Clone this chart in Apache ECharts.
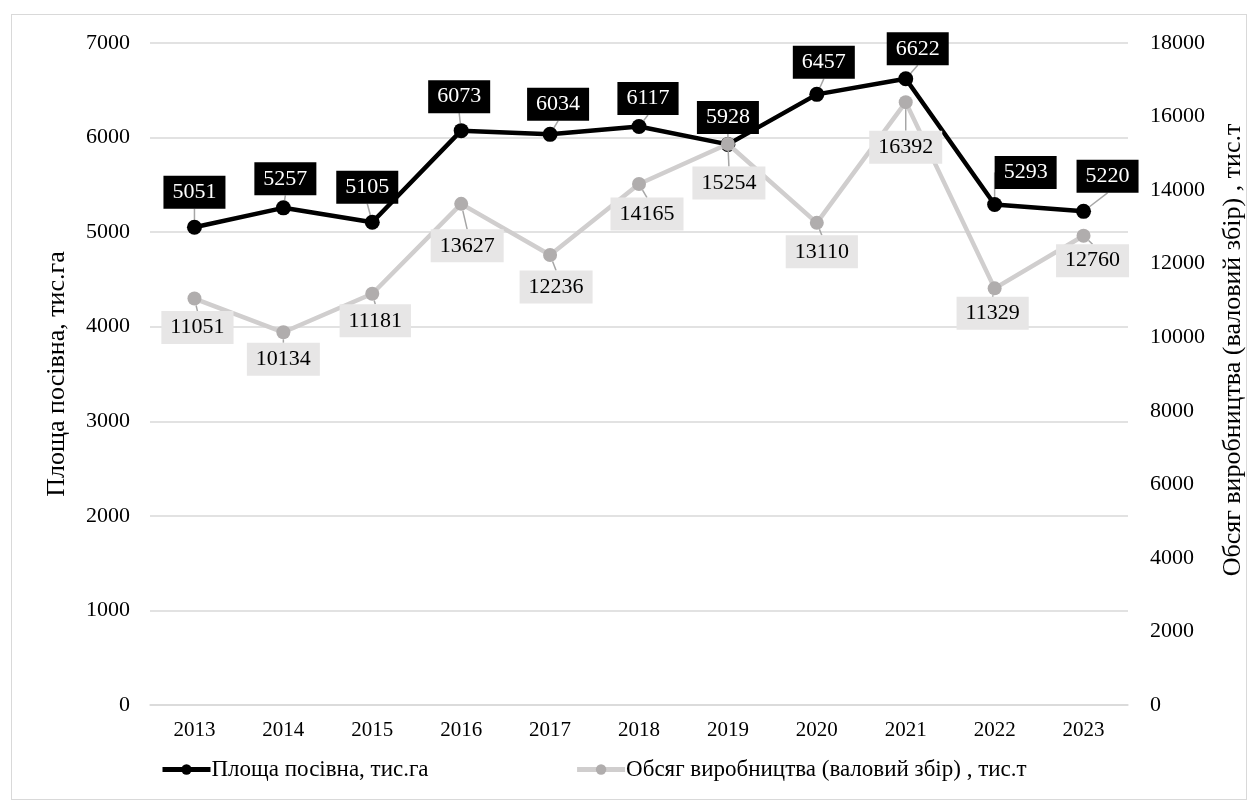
<!DOCTYPE html>
<html>
<head>
<meta charset="utf-8">
<script src="https://cdn.jsdelivr.net/npm/echarts@6/dist/echarts.min.js"></script>
<style>
html,body{margin:0;padding:0;background:#fff;}
#frame{position:absolute;left:11px;top:14px;width:1236px;height:786px;border:1.5px solid #d9d9d9;box-sizing:border-box;}
#c{position:absolute;left:0;top:0;width:1251px;height:811px;}
</style>
</head>
<body>
<div id="frame"></div>
<div id="c"></div>
<script>
const years = ['2013','2014','2015','2016','2017','2018','2019','2020','2021','2022','2023'];
const area = [5051, 5257, 5105, 6073, 6034, 6117, 5928, 6457, 6622, 5293, 5220];
const production = [11051, 10134, 11181, 13627, 12236, 14165, 15254, 13110, 16392, 11329, 12760];
const areaName = 'Площа посівна, тис.га';
const prodName = 'Обсяг виробництва (валовий збір) , тис.т';
const leftTicks = {min: 0, max: 7000, interval: 1000};
const rightTicks = {min: 0, max: 18000, interval: 2000};

// label offsets (layout only)
const areaLabelOff = [[0,-35],[2,-29],[-5,-35],[-2,-34],[8,-30],[9,-28],[0,-27],[7,-32],[12,-30],[31,-32],[24,-35]];
const prodLabelOff = [[3,29],[0,27],[3,27],[6,42],[6,32],[8,30],[1,39],[5,29],[0,45],[-2,25],[9,25]];

const FONT = '"Liberation Serif", "Times New Roman", serif';
const chart = echarts.init(document.getElementById('c'));
chart.setOption({
  animation: false,
  textStyle: {fontFamily: FONT},
  grid: {left: 150, right: 123, top: 43, bottom: 106, containLabel: false, outerBoundsMode: 'none'},
  legend: {
    left: 155, top: 753, itemGap: 146, itemWidth: 48, itemHeight: 13,
    textStyle: {fontFamily: FONT, fontSize: 23, color: '#000', padding: [0,0,0,-4]},
    data: [
      {name: areaName, lineStyle: {width: 5, color: '#000'}},
      {name: prodName, lineStyle: {width: 5, color: '#d0cece'}}
    ]
  },
  xAxis: {
    type: 'category', data: years, boundaryGap: true,
    axisLine: {show: true, lineStyle: {color: '#d9d9d9', width: 1.5}},
    axisTick: {show: false},
    axisLabel: {fontFamily: FONT, fontSize: 21, color: '#000', margin: 15}
  },
  yAxis: [
    {
      type: 'value', min: leftTicks.min, max: leftTicks.max, interval: leftTicks.interval,
      name: areaName, nameLocation: 'middle', nameRotate: 90, nameGap: 80,
      nameTextStyle: {fontFamily: FONT, fontSize: 26, color: '#000'},
      axisLine: {show: false}, axisTick: {show: false},
      axisLabel: {fontFamily: FONT, fontSize: 22, color: '#000', margin: 20, formatter: v => String(v)},
      splitLine: {lineStyle: {color: '#d9d9d9', width: 1.5}}
    },
    {
      type: 'value', min: rightTicks.min, max: rightTicks.max, interval: rightTicks.interval,
      name: prodName, nameLocation: 'middle', nameRotate: 90, nameGap: 92,
      nameTextStyle: {fontFamily: FONT, fontSize: 26, color: '#000', padding: [0, 0, 0, 48]},
      axisLine: {show: false}, axisTick: {show: false},
      axisLabel: {fontFamily: FONT, fontSize: 22, color: '#000', margin: 22, formatter: v => String(v)},
      splitLine: {show: false}
    }
  ],
  series: [
    {
      name: areaName, type: 'line', yAxisIndex: 0, data: area, z: 2,
      symbol: 'circle', symbolSize: 15,
      lineStyle: {color: '#000', width: 4.5},
      itemStyle: {color: '#000'},
      label: {
        show: true, position: 'inside', fontFamily: FONT, fontSize: 22,
        color: '#fff', backgroundColor: '#000', padding: [6, 9, 5, 9]
      },
      labelLine: {show: true, lineStyle: {color: '#a6a6a6', width: 1.5}},
      labelLayout: function (p) { const o = areaLabelOff[p.dataIndex]; return {dx: o[0], dy: o[1]}; }
    },
    {
      name: prodName, type: 'line', yAxisIndex: 1, data: production, z: 3,
      symbol: 'circle', symbolSize: 14,
      lineStyle: {color: '#d0cece', width: 4.5},
      itemStyle: {color: '#b0adad'},
      label: {
        show: true, position: 'inside', fontFamily: FONT, fontSize: 22,
        color: '#000', backgroundColor: '#e7e6e6', padding: [6, 9, 5, 9]
      },
      labelLine: {show: true, lineStyle: {color: '#a6a6a6', width: 1.5}},
      labelLayout: function (p) { const o = prodLabelOff[p.dataIndex]; return {dx: o[0], dy: o[1]}; }
    }
  ]
});
</script>
</body>
</html>
